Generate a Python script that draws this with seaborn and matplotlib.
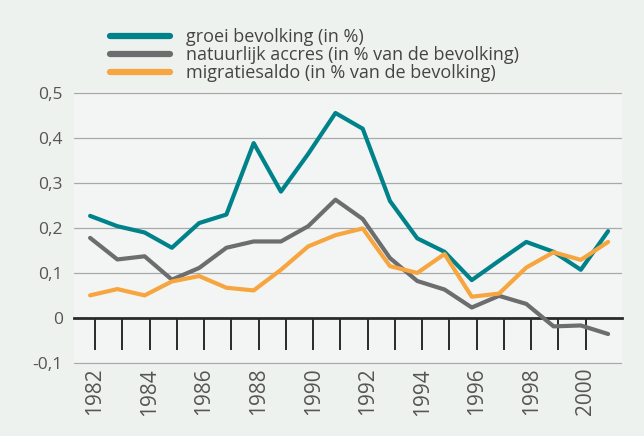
import numpy as np
import pandas as pd
import matplotlib
matplotlib.use("Agg")
import matplotlib.pyplot as plt
import seaborn as sns

# data
years = list(range(1982, 2002))
groei = [0.227, 0.204, 0.190, 0.156, 0.211, 0.230, 0.389, 0.281, 0.365, 0.456,
         0.421, 0.260, 0.177, 0.147, 0.084, 0.127, 0.169, 0.147, 0.107, 0.193]
natuurlijk = [0.178, 0.130, 0.137, 0.085, 0.111, 0.156, 0.170, 0.170, 0.204, 0.263,
              0.220, 0.133, 0.082, 0.063, 0.023, 0.049, 0.031, -0.019, -0.017, -0.036]
migratie = [0.050, 0.064, 0.050, 0.081, 0.093, 0.067, 0.061, 0.107, 0.159, 0.184,
            0.199, 0.115, 0.100, 0.142, 0.047, 0.054, 0.112, 0.146, 0.129, 0.169]

series_names = ["groei bevolking (in %)",
                "natuurlijk accres (in % van de bevolking)",
                "migratiesaldo (in % van de bevolking)"]
colors = ["#00828a", "#6b6d6f", "#f7a53f"]
tick_years = list(range(1982, 2001))
y_ticks = [-0.1, 0, 0.1, 0.2, 0.3, 0.4, 0.5]

df = pd.DataFrame({"jaar": years * 3,
                   "waarde": groei + natuurlijk + migratie,
                   "reeks": [series_names[0]] * 20 + [series_names[1]] * 20 + [series_names[2]] * 20})

sns.set_style("white")
plt.rcParams['font.family'] = ['Open Sans', 'DejaVu Sans']

bg = "#eef2ef"
fig = plt.figure(figsize=(6.44, 4.36), dpi=100, facecolor=bg)
ax = fig.add_axes([74 / 644, (436 - 365) / 436, (622 - 74) / 644, (365 - 91) / 436])
ax.set_facecolor("#f2f5f3")

# gridlines
for v in y_ticks:
    if v == 0:
        continue
    ax.axhline(v, color="#a8aaa9", lw=0.9, zorder=1)

sns.lineplot(data=df, x="jaar", y="waarde", hue="reeks", palette=colors,
             hue_order=series_names, linewidth=3.0, ax=ax, legend=False, zorder=3)

ax.set_xlim(1981.41, 2001.51)
ax.set_ylim(-0.105, 0.505)

# x axis at y=0 with long downward ticks
for s in ["top", "right", "left"]:
    ax.spines[s].set_visible(False)
ax.spines["bottom"].set_position(("data", 0))
ax.spines["bottom"].set_linewidth(2.0)
ax.spines["bottom"].set_color("#2a2a2a")
ax.spines["bottom"].set_zorder(2)
ax.set_xticks([y + 0.18 for y in tick_years])
ax.set_xticklabels([str(y) if y % 2 == 0 else "" for y in tick_years],
                   rotation=90, fontsize=15, color="#555555")
ax.tick_params(axis="x", bottom=True, direction="out", length=23, width=1.4,
               color="#2a2a2a", pad=13)

ax.set_yticks(y_ticks)
ax.set_yticklabels(["-0,1", "0", "0,1", "0,2", "0,3", "0,4", "0,5"], fontsize=12.5, color="#555555")
ax.tick_params(axis="y", left=False, length=0, pad=8)
ax.set_xlabel("")
ax.set_ylabel("")

# legend at top
handles = [plt.Line2D([], [], color=c, lw=4.5) for c in colors]
fig.legend(handles, series_names, loc="upper left", bbox_to_anchor=(110 / 644, 1 - 28 / 436),
           frameon=False, fontsize=13, handlelength=3.3, handletextpad=0.9,
           labelspacing=0.0, borderpad=0, borderaxespad=0, labelcolor="#444444")

fig.savefig("out.png", dpi=100, facecolor=bg)
